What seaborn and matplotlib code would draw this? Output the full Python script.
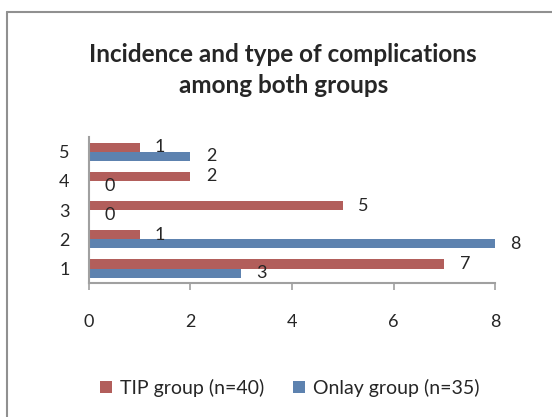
import pandas as pd
import matplotlib.pyplot as plt
import seaborn as sns
from matplotlib.lines import Line2D

# complication types (1-5) and counts per group
types = ['1', '2', '3', '4', '5']
tip_counts = [7, 1, 5, 2, 1]
onlay_counts = [3, 8, 0, 0, 2]
groups = ['TIP group (n=40)', 'Onlay group (n=35)']
colors = ['#C0504D', '#4F81BD']

df = pd.DataFrame({
    'type': types * 2,
    'count': tip_counts + onlay_counts,
    'group': [groups[0]] * len(types) + [groups[1]] * len(types),
})

sns.set_style('white')
plt.rcParams['font.family'] = ['Lato', 'DejaVu Sans']

fig = plt.figure(figsize=(5.52, 4.17), dpi=100)
ax = fig.add_axes([0.161, 0.321, 0.736, 0.35])

sns.barplot(data=df, y='type', x='count', hue='group', orient='h',
            order=types[::-1], hue_order=groups, palette=colors,
            width=0.62, gap=0, edgecolor='none', ax=ax, legend=True)

# value labels to the right of each bar
for cont in ax.containers:
    ax.bar_label(cont, fmt='%g', padding=11, fontsize=13)

ax.set_xlim(0, 8)
ax.set_xticks([0, 2, 4, 6, 8])
ax.set_xlabel('')
ax.set_ylabel('')
for s in ['top', 'right']:
    ax.spines[s].set_visible(False)
for s in ['left', 'bottom']:
    ax.spines[s].set_color('#A0A0A0')
    ax.spines[s].set_linewidth(1.5)
ax.tick_params(axis='x', length=5, width=1.2, color='#A0A0A0', pad=17,
               labelsize=13, direction='out', bottom=True)
ax.tick_params(axis='y', length=0, pad=14, labelsize=13)

# legend at the bottom of the chart area
handles, labels = ax.get_legend_handles_labels()
ax.get_legend().remove()
fig.legend(handles, labels, loc='center', bbox_to_anchor=(0.525, 0.07),
           ncol=2, frameon=False, fontsize=14, handlelength=0.6,
           handleheight=0.6, handletextpad=0.4, columnspacing=1.5)

fig.text(0.513, 0.832, 'Incidence and type of complications\namong both groups',
         ha='center', va='center', fontsize=17.5, fontweight='bold',
         linespacing=1.4)

# chart frame (right and bottom run past the image edge)
fig.add_artist(Line2D([0.0135, 0.0135], [0.0, 0.972], color='#909090', lw=1.5))
fig.add_artist(Line2D([0.0135, 1.0], [0.972, 0.972], color='#909090', lw=1.5))

fig.savefig('out.png', dpi=100)
